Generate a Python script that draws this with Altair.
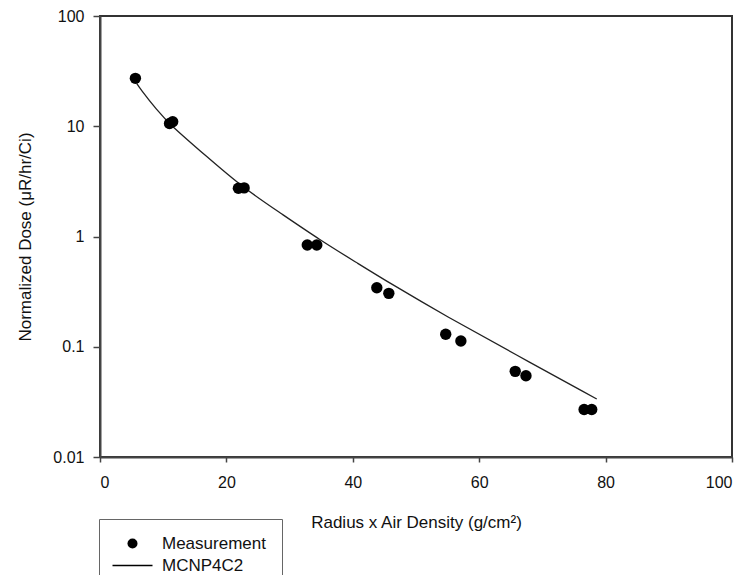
import altair as alt
import pandas as pd

# Measurement points
meas_x = [5.6, 11.0, 11.5, 21.9, 22.8, 32.8, 34.3, 43.8, 45.7, 54.7, 57.1, 65.7, 67.4, 76.6, 77.8]
meas_y = [27.2, 10.6, 11.0, 2.74, 2.76, 0.838, 0.838, 0.343, 0.305, 0.1297, 0.1127, 0.0598, 0.0546, 0.027, 0.027]

# MCNP4C2 curve
mcnp_x = [5.8, 6.3, 9.0, 11.1, 16.9, 22.4, 28.5, 34.8, 40.6, 45.9, 54.9, 65.4, 78.6]
mcnp_y = [24.5, 22.1, 14.0, 10.3, 5.3, 2.83, 1.64, 0.93, 0.58, 0.376, 0.1875, 0.0873, 0.0336]

series_names = ["Measurement", "MCNP4C2"]
x_ticks = [0, 20, 40, 60, 80, 100]
y_ticks = [0.01, 0.1, 1, 10, 100]

meas = pd.DataFrame({"x": meas_x, "y": meas_y, "series": "Measurement"})
mcnp = pd.DataFrame({"x": mcnp_x, "y": mcnp_y})

FONT = "Liberation Sans"

x_enc = alt.X(
    "x:Q",
    scale=alt.Scale(domain=[0, 100], nice=False, zero=False),
    axis=alt.Axis(
        values=x_ticks, title="Radius x Air Density (g/cm²)", grid=False,
        tickSize=5, labelPadding=12, titlePadding=24,
        labelFontSize=16, titleFontSize=17, titleFontWeight="normal",
        labelFont=FONT, titleFont=FONT, labelColor="#111", titleColor="#111",
        domainColor="#444", domainWidth=2, tickColor="#444", tickWidth=1.5,
    ),
)
y_enc = alt.Y(
    "y:Q",
    scale=alt.Scale(type="log", domain=[0.01, 100], nice=False),
    axis=alt.Axis(
        values=y_ticks, format="~g", title="Normalized Dose (μR/hr/Ci)", grid=False,
        tickSize=7, labelPadding=9, titlePadding=18,
        labelFontSize=16, titleFontSize=17, titleFontWeight="normal",
        labelFont=FONT, titleFont=FONT, labelColor="#111", titleColor="#111",
        domainColor="#444", domainWidth=2, tickColor="#444", tickWidth=1.5,
    ),
)

line = alt.Chart(mcnp).mark_line(color="#222", strokeWidth=1.3, interpolate="basis").encode(
    x=x_enc, y=y_enc
)

legend = alt.Legend(
    title=None, orient="none", legendX=-1, legendY=503,
    strokeColor="#666", fillColor="white", padding=16, rowPadding=4,
    symbolOffset=9, symbolSize=100,
    labelFont=FONT, labelFontSize=17, labelColor="#111", labelOffset=21,
    symbolFillColor="black",
)

# legend symbol for the curve: a thin filled bar
line_symbol = "M-4,-0.13H4V0.13H-4Z"

points = alt.Chart(meas).mark_point(filled=True, color="black", opacity=1, size=130).encode(
    x=x_enc, y=y_enc,
    shape=alt.Shape("series:N", scale=alt.Scale(domain=series_names, range=["circle", line_symbol]), legend=legend),
)

chart = alt.layer(line, points).properties(
    width=632, height=441,
    autosize=alt.AutoSizeParams(type="none"),
    padding={"left": 92, "top": 8, "right": 8, "bottom": 118},
    background="white",
).configure_view(stroke="#333", strokeWidth=2)

chart.save("out.html", embed_options={"renderer": "svg", "actions": False})
